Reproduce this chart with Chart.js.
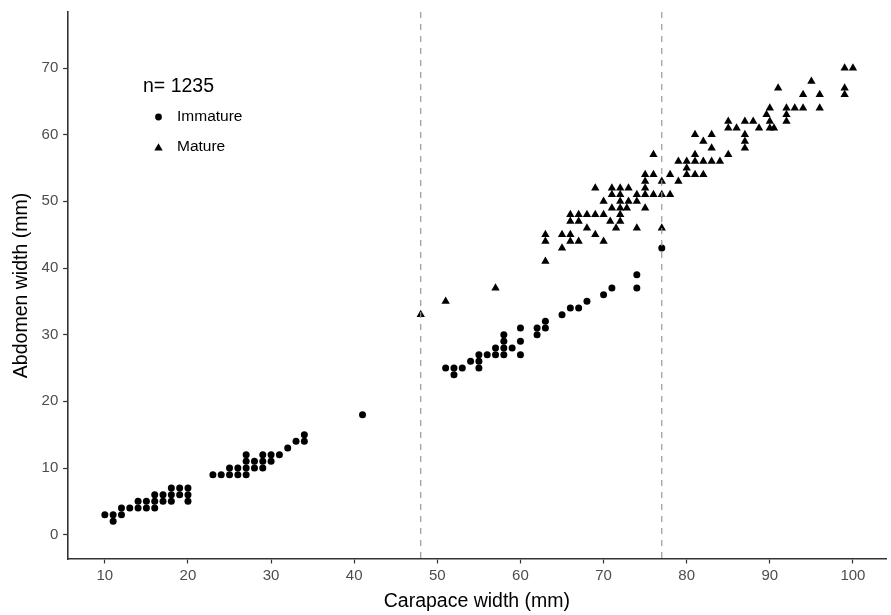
<!DOCTYPE html>
<html>
<head>
<meta charset="utf-8">
<script src="https://cdn.jsdelivr.net/npm/chart.js@4.4.1/dist/chart.umd.min.js"></script>
<style>
  html, body { margin: 0; padding: 0; background: #fff; }
  #wrap { width: 891px; height: 615px; position: relative; }
</style>
</head>
<body>
<div id="wrap"><canvas id="c" width="891" height="615"></canvas></div>
<script>
// ---- data ----
const xTicks = [10, 20, 30, 40, 50, 60, 70, 80, 90, 100];
const yTicks = [0, 10, 20, 30, 40, 50, 60, 70];
const cutoffs = [48, 77];
const legendTitle = 'n= 1235';
const seriesNames = ['Immature', 'Mature'];

const immatureX = [10,11,11,12,12,13,14,14,15,15,16,16,16,17,17,18,18,18,19,19,20,20,20,
  23,24,25,25,26,26,27,27,27,27,28,28,29,29,29,30,30,31,32,33,34,34,
  41,
  51,52,52,53,54,55,55,55,56,57,57,58,58,58,58,59,60,60,60,62,62,63,63,65,66,67,68,70,71,74,74,77];
const immatureY = [3,3,2,4,3,4,5,4,5,4,6,5,4,6,5,7,6,5,7,6,7,6,5,
  9,9,10,9,10,9,12,11,10,9,11,10,12,11,10,12,11,12,13,14,15,14,
  18,
  25,25,24,25,26,27,26,25,27,28,27,30,29,28,27,28,31,29,27,31,30,32,31,33,34,34,35,36,37,39,37,43];

const matureX = [48,51,57,
  63,63,63,65,65,66,66,66,66,67,67,67,68,68,69,69,69,70,70,70,
  71,71,71,70.8,71.5,72,72,72,72,72,72,73,73,72.8,74,74,74,
  75,75,75,75,75,76,76,76,77,77,77,78,78,79,79,80,80,80,
  81,81,81,81,82,82,82,83,83,83,84,85,85,85,86,87,87,87,87,88,88.7,
  90,89.6,90,90,90.5,91,92,92,92,93,94,94,95,96,96,99,99,99,100];
const matureY = [33,35,37,
  45,44,41,45,43,48,47,45,44,48,47,44,48,46,52,48,45,50,48,44,
  52,51,49,47,46,52,51,50,49,48,47,52,50,49,51,50,46,
  54,53,52,51,49,57,54,51,53,51,46,54,51,56,53,55,56,54,
  60,57,56,54,59,56,54,60,58,56,56,62,61,57,61,62,60,59,58,62,61,
  64,63,62,61,61,67,64,63,62,64,66,64,68,66,64,70,67,66,70];

const toPts = (xs, ys) => xs.map((x, i) => ({ x: x, y: ys[i] }));

const FONT = "'Liberation Sans', Arial, Helvetica, sans-serif";

const vlinePlugin = {
  id: 'vlines',
  afterDatasetsDraw(chart) {
    const { ctx, chartArea, scales } = chart;
    ctx.save();
    ctx.strokeStyle = '#999999';
    ctx.lineWidth = 1.2;
    ctx.setLineDash([6, 6]);
    cutoffs.forEach(v => {
      const px = scales.x.getPixelForValue(v);
      ctx.beginPath();
      ctx.moveTo(px, chartArea.top);
      ctx.lineTo(px, chartArea.bottom);
      ctx.stroke();
    });
    ctx.restore();
  }
};

const legendPlugin = {
  id: 'inlegend',
  afterDraw(chart) {
    const ctx = chart.ctx;
    ctx.save();
    ctx.fillStyle = '#000';
    ctx.textBaseline = 'middle';
    ctx.textAlign = 'left';
    ctx.font = '19.5px ' + FONT;
    ctx.fillText(legendTitle, 143, 87);
    ctx.font = '15.5px ' + FONT;
    ctx.beginPath();
    ctx.arc(158.5, 117, 3.4, 0, Math.PI * 2);
    ctx.fill();
    ctx.fillText(seriesNames[0], 177, 117);
    const r = 4.8, cx = 158.5, cy = 148;
    ctx.beginPath();
    ctx.moveTo(cx, cy - r);
    ctx.lineTo(cx + r * Math.sin(2 * Math.PI / 3), cy - r * Math.cos(2 * Math.PI / 3));
    ctx.lineTo(cx + r * Math.sin(4 * Math.PI / 3), cy - r * Math.cos(4 * Math.PI / 3));
    ctx.closePath();
    ctx.fill();
    ctx.fillText(seriesNames[1], 177, 147);
    ctx.restore();
  }
};

const axisCommon = {
  grid: { display: true, drawOnChartArea: false, drawTicks: true, tickLength: 4.5, tickColor: '#333333', tickWidth: 1.2 },
  border: { display: true, color: '#333333', width: 1.6 },
};

new Chart(document.getElementById('c'), {
  type: 'scatter',
  data: {
    datasets: [
      { label: seriesNames[0], data: toPts(immatureX, immatureY), pointStyle: 'circle', pointRadius: 3.5,
        pointHoverRadius: 3.5, backgroundColor: '#000', borderWidth: 0 },
      { label: seriesNames[1], data: toPts(matureX, matureY), pointStyle: 'triangle', pointRadius: 4.8,
        pointHoverRadius: 4.8, backgroundColor: '#000', borderWidth: 0 }
    ]
  },
  options: {
    responsive: false,
    animation: false,
    events: [],
    layout: { padding: { top: 12, right: 0.6, left: 0, bottom: 0 } },
    plugins: { legend: { display: false }, tooltip: { enabled: false } },
    scales: {
      x: Object.assign({}, axisCommon, {
        type: 'linear', min: 5.52, max: 104.0,
        afterBuildTicks: s => { s.ticks = xTicks.map(v => ({ value: v })); },
        afterFit: s => { s.height = 56; s.paddingRight = 0; s.paddingLeft = 0; },
        ticks: { color: '#4D4D4D', font: { size: 15, family: FONT }, padding: 3.5, maxRotation: 0, autoSkip: false },
        title: { display: true, text: 'Carapace width (mm)', color: '#000', font: { size: 19.5, family: FONT }, padding: { top: 0, bottom: 1.5 } }
      }),
      y: Object.assign({}, axisCommon, {
        type: 'linear', min: -3.65, max: 78.4,
        afterBuildTicks: s => { s.ticks = yTicks.map(v => ({ value: v })); },
        afterFit: s => { s.width = 67.6; s.paddingTop = 0; s.paddingBottom = 0; },
        ticks: { color: '#4D4D4D', font: { size: 15, family: FONT }, padding: 4.8, autoSkip: false },
        title: { display: true, text: 'Abdomen width (mm)', color: '#000', font: { size: 19.5, family: FONT }, padding: { top: 10.3, bottom: 0 } }
      })
    }
  },
  plugins: [vlinePlugin, legendPlugin]
});
</script>
</body>
</html>
